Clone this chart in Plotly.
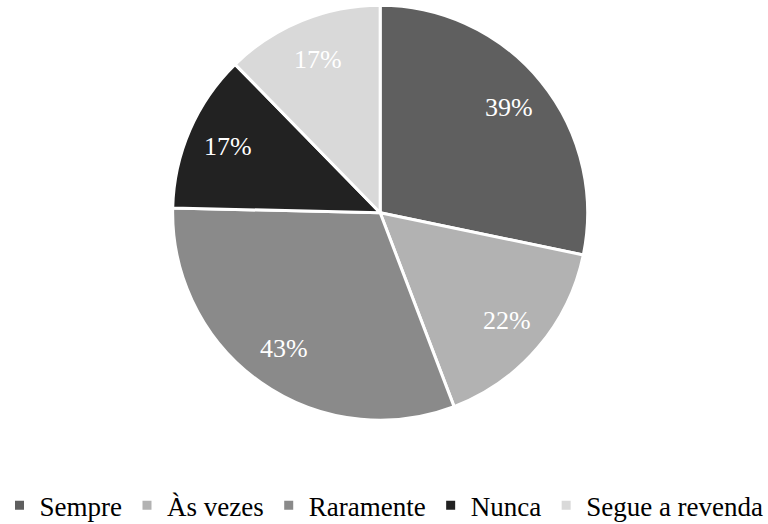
import math
import plotly.graph_objects as go

# Survey answers and their counts (shown as % labels)
categories = ["Sempre", "Às vezes", "Raramente", "Nunca", "Segue a revenda"]
values = [39, 22, 43, 17, 17]
colors = ["#5f5f5f", "#b2b2b2", "#8a8a8a", "#222222", "#d9d9d9"]

W, H = 768, 524
dom_x = [0.195, 0.795]
dom_y = [0.198, 0.99]
label_radius = 0.8  # fraction of the pie radius where the % labels sit

fig = go.Figure(
    go.Pie(
        labels=categories,
        values=values,
        sort=False,
        direction="clockwise",
        rotation=0,
        marker=dict(colors=colors, line=dict(color="white", width=3)),
        textinfo="none",
        hoverinfo="label+value",
        domain=dict(x=dom_x, y=dom_y),
    )
)

# Place value labels at the middle angle of each slice
cx = (dom_x[0] + dom_x[1]) / 2 * W
cy = (dom_y[0] + dom_y[1]) / 2 * H
r = min((dom_x[1] - dom_x[0]) * W, (dom_y[1] - dom_y[0]) * H) / 2
total = sum(values)
cum = 0
for v in values:
    theta = math.radians((cum + v / 2) / total * 360)
    cum += v
    px = cx + label_radius * r * math.sin(theta)
    py = cy + label_radius * r * math.cos(theta)
    fig.add_annotation(
        x=px / W, y=py / H, xref="paper", yref="paper",
        xanchor="center", yanchor="middle",
        text=f"{v}%", showarrow=False,
        font=dict(family="Liberation Serif", size=26, color="white"),
    )

fig.update_layout(
    width=W,
    height=H,
    margin=dict(l=0, r=0, t=0, b=0, autoexpand=False),
    paper_bgcolor="white",
    plot_bgcolor="white",
    font=dict(family="Liberation Serif", size=27, color="black"),
    legend=dict(
        orientation="h",
        x=0.5,
        xanchor="center",
        y=-0.012,
        yanchor="bottom",
        font=dict(family="Liberation Serif", size=27, color="black"),
        traceorder="normal",
    ),
)

fig.write_html("out.html")
